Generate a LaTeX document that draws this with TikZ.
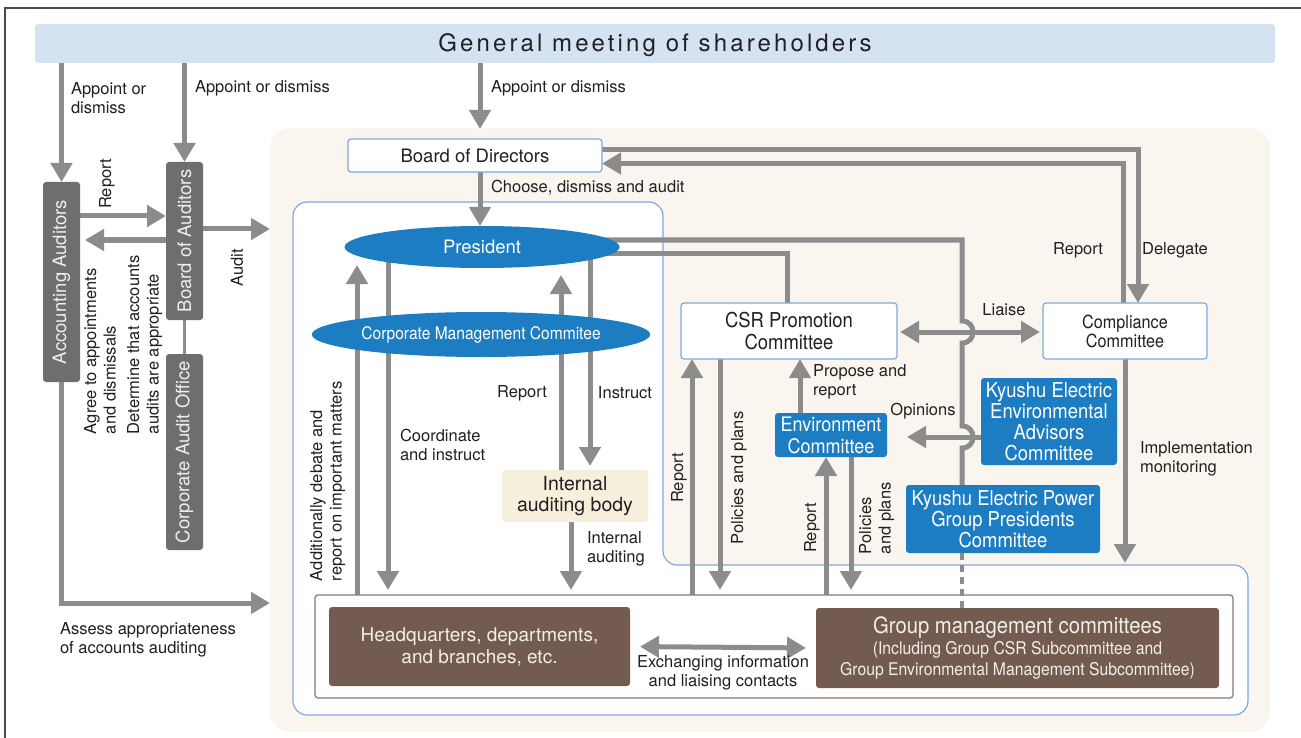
\documentclass[tikz,border=0pt]{standalone}
\usepackage{fontspec}
\setmainfont{TeX Gyre Heros}
\newfontfamily\condfont{TeX Gyre Heros}[FakeStretch=0.9]
\newfontfamily\gmfont{TeX Gyre Heros}[LetterSpace=13]
\usetikzlibrary{arrows.meta,shapes.geometric,calc}
\pgfdeclarelayer{back}
\pgfdeclarelayer{mid}
\pgfsetlayers{back,mid,main}
\definecolor{txt}{HTML}{231F20}
\definecolor{arrgray}{HTML}{8C8C8C}
\definecolor{dkgray}{HTML}{6E6E6E}
\definecolor{lighttxt}{HTML}{EEEEEE}
\definecolor{blueF}{HTML}{1C7DC2}
\definecolor{bborder}{HTML}{7FA8DA}
\definecolor{brownF}{HTML}{735C4F}
\definecolor{brownL}{HTML}{8E7667}
\definecolor{brtxt}{HTML}{F2EEEA}
\definecolor{beige}{HTML}{FAF6EF}
\definecolor{iabF}{HTML}{F5EFDC}
\definecolor{gmF}{HTML}{D5E2F2}
\definecolor{framec}{HTML}{4A4A4A}
\tikzset{
 every node/.style={inner sep=0pt, outer sep=0pt},
 line/.style={draw=arrgray, line width=5pt, line join=miter},
 arr/.style={line, -{Triangle[width=21pt,length=19pt]}},
 darr/.style={line, {Triangle[width=21pt,length=19pt]}-{Triangle[width=21pt,length=19pt]}},
 lbl/.style={font=\fontsize{16.5}{19.5}\selectfont, text=txt, align=left},
 lblc/.style={lbl, align=center},
 vlbl/.style={lbl, rotate=90},
 grayv/.style={rotate=90, fill=dkgray, rounded corners=3pt, minimum height=37pt, text=lighttxt, font=\fontsize{18.5}{20}\selectfont},
 wbox/.style={draw=bborder, line width=1.2pt, fill=white, rounded corners=3pt, text=txt, align=center},
 bbox/.style={fill=blueF, rounded corners=3pt, text=white, align=center},
 ell/.style={ellipse, fill=blueF, text=white},
 brbox/.style={fill=brownF, rounded corners=3pt, text=brtxt, align=center},
}
\begin{document}
\begin{tikzpicture}[x=1pt,y=-1pt]
\useasboundingbox (0,0) rectangle (1301,738);
\begin{pgfonlayer}{back}
\fill[white] (0,0) rectangle (1301,738);
\draw[framec, line width=1.5pt] (5,738) -- (5,8) -- (1301,8);
\fill[beige, rounded corners=20pt] (270,128) rectangle (1270,732);
\filldraw[fill=white, draw=bborder, line width=1.2pt, rounded corners=14pt] (293,202) -- (663,202) -- (663,565) -- (1248,565) -- (1248,715) -- (293,715) -- cycle;
\node[draw=brownL, line width=1.2pt, fill=white, rounded corners=3pt, minimum width=918pt, minimum height=103pt] (grp) at (774,646.5) {};
\end{pgfonlayer}

% nodes
\node[fill=gmF, rounded corners=3pt, minimum width=1240pt, minimum height=39pt] (gm) at (655,43.5) {};
\node[text=txt, font=\gmfont\fontsize{24}{26}\selectfont, anchor=base] (gmt) at (655,52) {General meeting of shareholders};
\node[grayv, minimum width=200pt] (aa) at (61.5,282) {Accounting Auditors};
\node[grayv, minimum width=158pt] (boa) at (184.5,241) {Board of Auditors};
\node[grayv, minimum width=196pt] (cao) at (184.5,452) {Corporate Audit Office};
\node[wbox, minimum width=254pt, minimum height=33pt, font=\fontsize{18.5}{20}\selectfont] (bod) at (475,155.5) {Board of Directors};
\node[ell, minimum width=275pt, minimum height=42pt, font=\fontsize{18.5}{20}\selectfont] (pres) at (482,247) {President};
\node[ell, minimum width=274pt, minimum height=45pt, font=\condfont\fontsize{17.3}{20}\selectfont] (cmc) at (481,334.5) {Corporate Management Commitee};
\node[wbox, minimum width=216pt, minimum height=56pt, font=\condfont\fontsize{20.5}{22}\selectfont] (csr) at (789,331) {CSR Promotion\\Committee};
\node[wbox, minimum width=164pt, minimum height=56pt, font=\condfont\fontsize{18}{19}\selectfont] (comp) at (1125,331) {Compliance\\Committee};
\node[bbox, minimum width=112pt, minimum height=44pt, font=\condfont\fontsize{20}{22}\selectfont] (env) at (831,435) {Environment\\Committee};
\node[bbox, minimum width=136pt, minimum height=87pt, font=\condfont\fontsize{20.5}{21}\selectfont] (keeac) at (1049,421.5) {Kyushu Electric\\Environmental\\Advisors\\Committee};
\node[bbox, minimum width=194pt, minimum height=68pt, font=\condfont\fontsize{20.5}{21}\selectfont] (gpc) at (1003,519) {Kyushu Electric Power\\Group Presidents\\Committee};
\node[fill=iabF, rounded corners=3pt, minimum width=146pt, minimum height=52pt, align=center, text=txt, font=\fontsize{19.5}{21}\selectfont] (iab) at (575,496) {Internal\\auditing body};
\node[brbox, minimum width=301pt, minimum height=79pt, font=\fontsize{19}{22}\selectfont] (hq) at (479.5,646.5) {Headquarters, departments,\\and branches, etc.};
\node[brbox, minimum width=403pt, minimum height=80pt, font=\condfont\fontsize{17.5}{21}\selectfont] (gmc) at (1017.5,648) {{\condfont\fontsize{22.5}{24}\selectfont Group management committees}\\(Including Group CSR Subcommittee and\\Group Environmental Management Subcommittee)};

% labels
\node[lbl, anchor=west] (l1) at (71,98) {Appoint or\\dismiss};
\node[lbl, anchor=west] (l2) at (195,88) {Appoint or dismiss};
\node[lbl, anchor=west] (l3) at (491,88) {Appoint or dismiss};
\node[vlbl] (l4) at (107,184) {Report};
\node[vlbl, anchor=north west] (l5) at (84,434) {Agree to appointments\\and dismissals};
\node[vlbl, anchor=north west] (l6) at (127,434) {Determine that accounts\\audits are appropriate};
\node[vlbl] (l7) at (237,268) {Audit};
\node[lbl, anchor=west] (l8) at (60,640) {Assess appropriateness\\of accounts auditing};
\node[lbl, anchor=west] (l9) at (491,188) {Choose, dismiss and audit};
\node[lbl] (l10) at (1078,250) {Report};
\node[lbl] (l11) at (1175,250) {Delegate};
\node[lbl] (l12) at (1004,310) {Liaise};
\node[lbl, anchor=west] (l13) at (813,382) {Propose and\\report};
\node[lbl] (l14) at (923,411) {Opinions};
\node[lbl, anchor=west] (l15) at (1140,459) {Implementation\\monitoring};
\node[lbl] (l16) at (522,393) {Report};
\node[lbl] (l17) at (625,393) {Instruct};
\node[lbl, anchor=west] (l18) at (400,445) {Coordinate\\and instruct};
\node[vlbl, anchor=north west] (l19) at (310,581) {Additionally debate and\\report on important matters};
\node[lbl, anchor=west] (l20) at (587,549) {Internal\\auditing};
\node[vlbl] (l21) at (679,478) {Report};
\node[vlbl] (l22) at (739,478) {Policies and plans};
\node[vlbl] (l23) at (812,528) {Report};
\node[vlbl, anchor=north west] (l24) at (859,554) {Policies\\and plans};
\node[lblc] (l25) at (723,673) {Exchanging information\\and liaising contacts};

% helper coordinates
\coordinate (bzTop) at (480,129);
\coordinate (bzL) at (270,0);
\coordinate (yRep) at (0,216);
\coordinate (yAgr) at (0,240);
\coordinate (yAud) at (0,229);
\coordinate (yAss) at (0,603);
\coordinate (xDel) at (1138,0);
\coordinate (xRpt) at (1123,0);
\coordinate (vx) at (962,0);
\coordinate (yL) at (0,332);
\coordinate (yO) at (0,437);
\coordinate (xCsr) at (787,0);
\coordinate (xProp) at (800,0);
\coordinate (xImp) at (1125,0);
\coordinate (yLow) at (0,563);
\coordinate (xR1) at (692,0);
\coordinate (xP1) at (720,0);
\coordinate (xR2) at (826,0);
\coordinate (xP2) at (851,0);
\coordinate (xA) at (357,0);
\coordinate (xC) at (388,0);
\coordinate (xIR) at (561,0);
\coordinate (xIn) at (590,0);
\coordinate (xIA) at (571,0);

\begin{pgfonlayer}{mid}
\draw[arr] (gm.south -| aa.east) -- (aa.east);
\draw[arr] (gm.south -| boa.east) -- (boa.east);
\draw[arr] (gm.south -| bzTop) -- (bzTop);
\draw[arr] (aa.south |- yRep) -- (boa.north |- yRep);
\draw[arr, shorten >=5pt] (boa.north |- yAgr) -- (aa.south |- yAgr);
\draw[arr] (boa.south |- yAud) -- (bzL |- yAud);
\draw[draw=arrgray, line width=3pt] (boa.west) -- (cao.east);
\draw[arr] (aa.west) |- (bzL |- yAss);
\draw[arr] (bod.south -| bzTop) -- (pres.north -| bzTop);
\draw[arr] ($(bod.east)+(0,-5.5)$) -| (comp.north -| xDel);
\draw[arr] (comp.north -| xRpt) |- ($(bod.east)+(0,8)$);
\draw[line] ($(pres.center)+(0,-7)$) -| ($(vx |- yL)+(0,-11)$) .. controls +(14.7,0) and +(14.7,0) .. ($(vx |- yL)+(0,11)$) -- ($(vx |- yO)+(0,-11)$) .. controls +(14.7,0) and +(14.7,0) .. ($(vx |- yO)+(0,11)$) -- (gpc.north -| vx);
\draw[line] ($(pres.center)+(0,6)$) -| (csr.north -| xCsr);
\draw[darr, shorten <=3pt, shorten >=3pt] (csr.east |- yL) -- (comp.west |- yL);
\draw[arr, shorten >=20pt] (keeac.west |- yO) -- (env.east |- yO);
\draw[arr] (env.north -| xProp) -- (csr.south -| xProp);
\draw[arr] (comp.south -| xImp) -- (xImp |- yLow);
\draw[arr] (grp.north -| xR1) -- (csr.south -| xR1);
\draw[arr, shorten >=5pt] (csr.south -| xP1) -- (grp.north -| xP1);
\draw[arr] (grp.north -| xR2) -- (env.south -| xR2);
\draw[arr, shorten >=5pt] (env.south -| xP2) -- (grp.north -| xP2);
\draw[draw=arrgray, line width=4pt, dash pattern=on 7pt off 5pt] (gpc.south -| vx) -- (gmc.north -| vx);
\draw[arr] (grp.north -| xA) -- ($(pres.south -| xA)+(0,-3)$);
\draw[arr, shorten >=5pt] (pres.center -| xC) -- (grp.north -| xC);
\draw[arr] (iab.north -| xIR) -- ($(pres.south -| xIR)+(0,7)$);
\draw[arr, shorten >=4pt] (pres.center -| xIn) -- (iab.north -| xIn);
\draw[arr, shorten >=5pt] (iab.south -| xIA) -- (grp.north -| xIA);
\draw[darr, shorten <=10pt, shorten >=10pt] (hq.east) -- (gmc.west);
\end{pgfonlayer}
\end{tikzpicture}
\end{document}
